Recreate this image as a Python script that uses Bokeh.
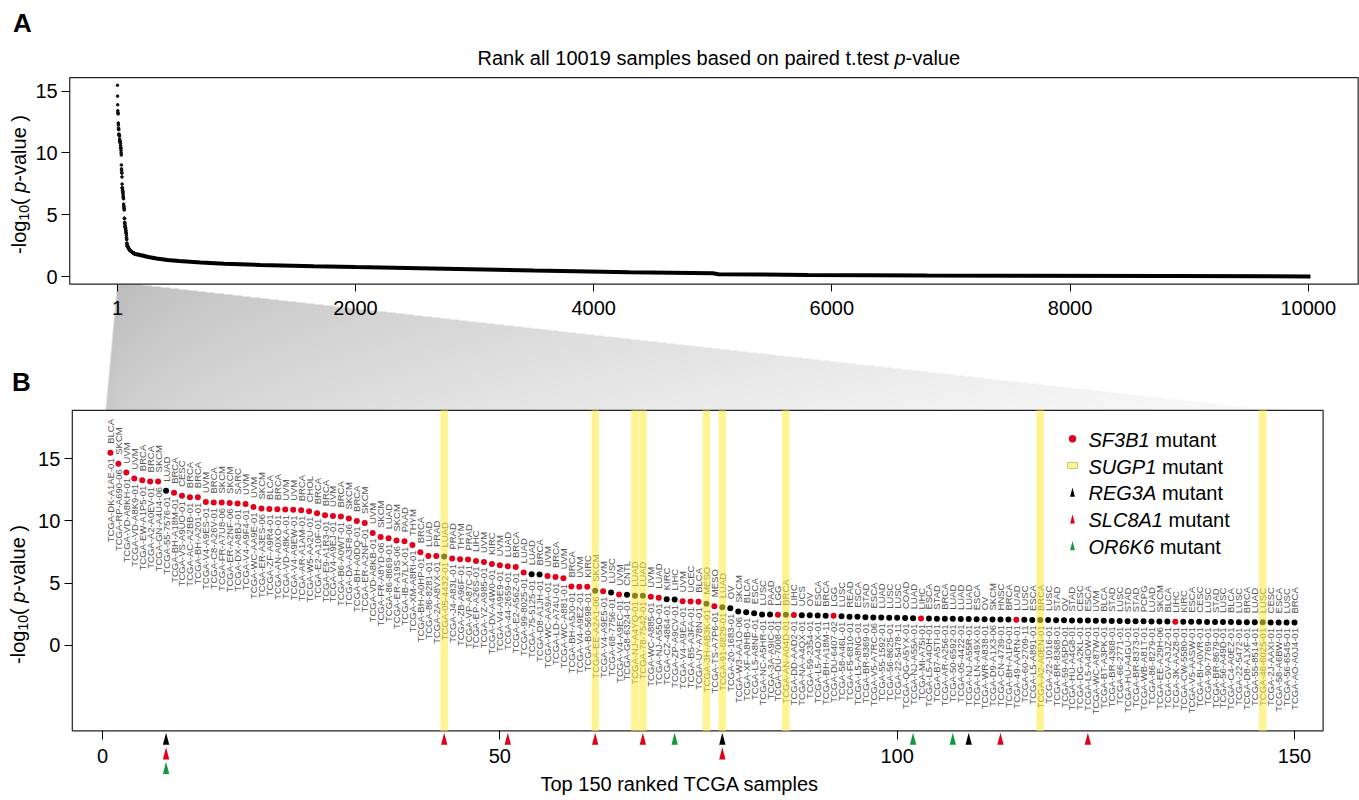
import numpy as np
from math import pi
from bokeh.plotting import figure
from bokeh.models import Range1d, LinearAxis, FixedTicker, Label, ColumnDataSource
from bokeh.core.properties import value
from bokeh.embed import file_html
from bokeh.resources import INLINE

# ---------------------------------------------------------------- data
N_ALL = 10019

SAMPLE_IDS = [
    "TCGA-DK-A1AE-01", "TCGA-RP-A690-06", "TCGA-VD-A8KH-01", "TCGA-VD-A8K9-01", "TCGA-EW-A1P5-01",
    "TCGA-A2-A0EV-01", "TCGA-GN-A4U4-06", "TCGA-55-7576-01", "TCGA-BH-A18M-01", "TCGA-VS-A9UO-01",
    "TCGA-AC-A2BB-01", "TCGA-BH-A201-01", "TCGA-V4-A9ES-01", "TCGA-C8-A26V-01", "TCGA-FR-A7U8-06",
    "TCGA-ER-A2NF-06", "TCGA-DX-A8BJ-01", "TCGA-V4-A9F4-01", "TCGA-WC-AA9E-01", "TCGA-ER-A3ES-06",
    "TCGA-ZF-A9R4-01", "TCGA-AN-A0XO-01", "TCGA-VD-A8KA-01", "TCGA-V4-A9EW-01", "TCGA-AR-A1AM-01",
    "TCGA-W5-AA2U-01", "TCGA-E2-A10F-01", "TCGA-E9-A1R3-01", "TCGA-V4-A9EJ-01", "TCGA-B6-A0WT-01",
    "TCGA-DA-A3F8-06", "TCGA-BH-A0DQ-01", "TCGA-ER-A2NF-01", "TCGA-VD-A8KB-01", "TCGA-FR-A8YD-06",
    "TCGA-86-8669-01", "TCGA-ER-A19S-06", "TCGA-IB-A7LX-01", "TCGA-XM-A8RI-01", "TCGA-BH-A0HP-01",
    "TCGA-86-8281-01", "TCGA-2A-A8VX-01", "TCGA-05-4432-01", "TCGA-J4-A83L-01", "TCGA-ZB-A96F-01",
    "TCGA-VP-A87C-01", "TCGA-EP-A26S-01", "TCGA-YZ-A985-01", "TCGA-DV-A4W0-01", "TCGA-V4-A9E9-01",
    "TCGA-44-2659-01", "TCGA-E2-A56Z-01", "TCGA-99-8025-01", "TCGA-75-5125-01", "TCGA-D8-A1JH-01",
    "TCGA-WC-AA9A-01", "TCGA-LD-A74U-01", "TCGA-WC-A881-01", "TCGA-BH-A5J0-01", "TCGA-V4-A9EZ-01",
    "TCGA-B0-5698-01", "TCGA-EE-A2A1-06", "TCGA-V4-A9E5-01", "TCGA-68-7756-01", "TCGA-V4-A9EC-01",
    "TCGA-G8-6324-01", "TCGA-NJ-A4YQ-01", "TCGA-78-7542-01", "TCGA-WC-A885-01", "TCGA-NJ-A55O-01",
    "TCGA-CZ-4864-01", "TCGA-ZP-A9CV-01", "TCGA-V4-A9EA-01", "TCGA-B5-A3FA-01", "TCGA-UY-A78N-01",
    "TCGA-3H-AB3K-01", "TCGA-TS-A7P6-01", "TCGA-91-6829-01", "TCGA-20-1683-01", "TCGA-W3-AA1O-06",
    "TCGA-XF-A8HB-01", "TCGA-L5-A8NF-01", "TCGA-NC-A5HR-01", "TCGA-3A-A9IC-01", "TCGA-DU-7008-01",
    "TCGA-AN-A04D-01", "TCGA-DD-AAD2-01", "TCGA-NA-A4QX-01", "TCGA-59-2354-01", "TCGA-L5-A4OX-01",
    "TCGA-BH-A18M-11", "TCGA-DU-6407-02", "TCGA-58-A46L-01", "TCGA-F5-6810-01", "TCGA-L5-A8NG-01",
    "TCGA-BR-8369-01", "TCGA-V5-A7RC-06", "TCGA-55-1592-01", "TCGA-56-8625-01", "TCGA-22-5478-11",
    "TCGA-QG-A5YX-01", "TCGA-NJ-A55A-01", "TCGA-MI-A75I-01", "TCGA-L5-A4OH-01", "TCGA-B7-A5TI-01",
    "TCGA-AR-A256-01", "TCGA-50-6592-01", "TCGA-05-4422-01", "TCGA-NJ-A55R-01", "TCGA-LN-A49X-01",
    "TCGA-WR-A838-01", "TCGA-D9-A1X3-06", "TCGA-CN-4739-01", "TCGA-BH-A1F0-01", "TCGA-49-AARN-01",
    "TCGA-60-2709-11", "TCGA-L5-A891-01", "TCGA-A2-A0EN-01", "TCGA-22-1016-01", "TCGA-BR-8368-01",
    "TCGA-59-A5PD-01", "TCGA-HU-A4G8-01", "TCGA-DG-A2KL-01", "TCGA-L5-A4OW-01", "TCGA-WC-A87W-01",
    "TCGA-BT-A3PK-01", "TCGA-BR-4368-01", "TCGA-66-2771-01", "TCGA-HU-A4GU-01", "TCGA-BR-8373-01",
    "TCGA-WB-A81T-01", "TCGA-86-8279-01", "TCGA-EE-A29H-06", "TCGA-GV-A3JZ-01", "TCGA-3K-AAZ8-01",
    "TCGA-CW-5580-01", "TCGA-V5-AASW-01", "TCGA-BI-A0VR-01", "TCGA-90-7769-01", "TCGA-BR-8679-01",
    "TCGA-56-A49D-01", "TCGA-C4-A0EZ-01", "TCGA-22-5472-01", "TCGA-D8-A1XF-01", "TCGA-55-8514-01",
    "TCGA-46-6025-01", "TCGA-2J-AAXI-01", "TCGA-58-A6BW-01", "TCGA-56-6545-01", "TCGA-AO-A0J4-01",
]

CANCER_TYPES = [
    "BLCA", "SKCM", "UVM", "UVM", "BRCA", "BRCA", "SKCM", "LUAD", "BRCA", "CESC",
    "BRCA", "BRCA", "UVM", "BRCA", "SKCM", "SKCM", "SARC", "UVM", "UVM", "SKCM",
    "BLCA", "BRCA", "UVM", "UVM", "BRCA", "CHOL", "BRCA", "BRCA", "UVM", "BRCA",
    "SKCM", "BRCA", "SKCM", "UVM", "SKCM", "LUAD", "SKCM", "PAAD", "THYM", "BRCA",
    "LUAD", "PRAD", "LUAD", "PRAD", "THYM", "PRAD", "LIHC", "UVM", "KIRC", "UVM",
    "LUAD", "BRCA", "LUAD", "LUAD", "BRCA", "UVM", "BRCA", "UVM", "BRCA", "UVM",
    "KIRC", "SKCM", "UVM", "LUSC", "UVM", "CNTL", "LUAD", "LUAD", "UVM", "LUAD",
    "KIRC", "LIHC", "UVM", "UCEC", "BLCA", "MESO", "MESO", "LUAD", "OV", "SKCM",
    "BLCA", "ESCA", "LUSC", "PAAD", "LGG", "BRCA", "LIHC", "UCS", "OV", "ESCA",
    "BRCA", "LGG", "LUSC", "READ", "ESCA", "STAD", "ESCA", "LUAD", "LUSC", "LUSC",
    "COAD", "LUAD", "LIHC", "ESCA", "STAD", "BRCA", "LUAD", "LUAD", "LUAD", "ESCA",
    "OV", "SKCM", "HNSC", "BRCA", "LUAD", "LUSC", "ESCA", "BRCA", "LUSC", "STAD",
    "OV", "STAD", "CESC", "ESCA", "UVM", "BLCA", "STAD", "LUSC", "STAD", "STAD",
    "PCPG", "LUAD", "SKCM", "BLCA", "LIHC", "KIRC", "ESCA", "CESC", "LUSC", "STAD",
    "LUSC", "BLCA", "LUSC", "BRCA", "LUAD", "LUSC", "CESC", "ESCA", "LUSC", "BRCA",
]

# -log10(p) of the top 150 ranked samples
NEG_LOG10_P = [
    15.48, 14.60, 13.90, 13.42, 13.28, 13.18, 13.18, 12.42, 12.26, 12.02,
    11.91, 11.91, 11.53, 11.48, 11.48, 11.45, 11.40, 11.37, 11.13, 11.00,
    10.97, 10.94, 10.92, 10.89, 10.86, 10.78, 10.62, 10.46, 10.40, 10.35,
    10.19, 10.00, 9.84, 9.03, 8.71, 8.60, 8.42, 8.36, 8.06, 7.48,
    7.18, 7.18, 7.13, 6.97, 6.91, 6.89, 6.77, 6.69, 6.53, 6.43,
    6.35, 6.29, 5.86, 5.70, 5.68, 5.56, 5.48, 5.38, 4.72, 4.70,
    4.70, 4.38, 4.35, 4.24, 4.08, 4.06, 3.98, 3.97, 3.89, 3.81,
    3.70, 3.68, 3.54, 3.52, 3.49, 3.33, 3.14, 3.06, 2.98, 2.71,
    2.66, 2.58, 2.47, 2.47, 2.46, 2.45, 2.44, 2.41, 2.41, 2.39,
    2.37, 2.36, 2.33, 2.29, 2.28, 2.25, 2.23, 2.22, 2.20, 2.20,
    2.19, 2.17, 2.15, 2.14, 2.13, 2.12, 2.12, 2.11, 2.10, 2.09,
    2.08, 2.07, 2.07, 2.06, 2.05, 2.04, 2.03, 2.03, 2.02, 2.01,
    2.00, 1.99, 1.98, 1.98, 1.97, 1.96, 1.95, 1.94, 1.93, 1.93,
    1.92, 1.91, 1.91, 1.90, 1.89, 1.89, 1.88, 1.88, 1.87, 1.87,
    1.86, 1.86, 1.85, 1.85, 1.84, 1.84, 1.83, 1.83, 1.82, 1.82,
]

# remaining ranks of panel A (dense curve)
TAIL_RANK = [150, 200, 260, 330, 420, 520, 700, 900, 1200, 1650, 2000, 2750, 3500,
             4300, 5000, 5050, 5800, 6800, 8850, 10019]
TAIL_VALUE = [1.82, 1.72, 1.58, 1.45, 1.34, 1.25, 1.13, 1.04, 0.94, 0.83, 0.76, 0.62, 0.48,
              0.35, 0.26, 0.19, 0.13, 0.08, 0.04, 0.01]

SF3B1_MUT = [1, 2, 3, 4, 5, 6, 7, 9, 10, 11, 12, 13, 14, 15, 16, 17, 18, 19, 20, 21, 22, 23,
             24, 25, 26, 27, 28, 29, 30, 31, 32, 33, 34, 35, 36, 37, 38, 39, 40, 41, 42, 44,
             45, 46, 47, 48, 49, 50, 51, 52, 53, 56, 57, 58, 59, 60, 61, 63, 65, 69, 70, 73,
             74, 75, 77, 85, 87, 92, 103, 115, 135]
SUGP1_MUT = [43, 62, 67, 68, 76, 78, 86, 118, 146]
REG3A_MUT = [8, 78, 109]
SLC8A1_MUT = [8, 43, 51, 62, 68, 78, 113, 124]
OR6K6_MUT = [8, 72, 102, 107]

A_XTICKS = [1, 2000, 4000, 6000, 8000, 10000]
A_YTICKS = [0, 5, 10, 15]
B_XTICKS = [0, 50, 100, 150]
B_YTICKS = [0, 5, 10, 15]

# ---------------------------------------------------------------- layout / style
W, H = 1359, 800
OX, OY = 0, 0          # canvas origin on the page
FONT = "Liberation Sans"
RED = "#E2001A"
GREEN = "#109A3C"
YELLOW = "#FFEB3B"
TXT = "#555555"


class Lin:
    """linear map data value <-> page pixel (calibration of each panel)"""
    def __init__(self, p0, v0, p1, v1):
        self.p0, self.v0 = p0, v0
        self.k = (p1 - p0) / (v1 - v0)

    def px(self, v):
        return self.p0 + (v - self.v0) * self.k

    def val(self, p):
        return self.v0 + (p - self.p0) / self.k


BX = Lin(102, 0, 1294, 150)
BY = Lin(644.7, 0, 458.3, 15)
AX = Lin(355, 2000, 1307.7, 10000)
AY = Lin(276, 0, 90.7, 15)


def xrange_of(m):
    return Range1d(m.val(OX), m.val(OX + W))


def yrange_of(m):
    return Range1d(m.val(OY + H), m.val(OY))


N_TOP = len(NEG_LOG10_P)
amax = max(NEG_LOG10_P)
A_XLIM = (1 - 0.04 * (N_ALL - 1), N_ALL + 0.04 * (N_ALL - 1))
A_YLIM = (0 - 0.04 * amax, amax + 0.04 * amax)
B_XLIM = (-3.8, 153.6)
B_YLIM = (-6.9, 18.9)

p = figure(width=W, height=H, x_range=xrange_of(BX), y_range=yrange_of(BY),
           x_axis_type=None, y_axis_type=None, toolbar_location=None,
           output_backend="svg", min_border=0, title=None)
p.outline_line_color = None
p.background_fill_color = "white"
p.border_fill_color = "white"
p.extra_x_ranges = {"Ax": xrange_of(AX), "px": Range1d(OX, OX + W)}
p.extra_y_ranges = {"Ay": yrange_of(AY), "py": Range1d(-(OY + H), -OY)}

# ---------------------------------------------------------------- zoom wedge (gradient)
tl = (AX.px(1), AY.px(A_YLIM[0]))
tr = (AX.px(N_TOP), AY.px(A_YLIM[0]))
bl = (BX.px(0.4), BY.px(B_YLIM[1]))
br = (BX.px(147.5), BY.px(B_YLIM[1]))
x0 = int(np.floor(min(tl[0], bl[0])))
x1 = int(np.ceil(max(tr[0], br[0])))
y0 = int(np.floor(tl[1]))
y1 = int(np.ceil(bl[1]))
ww, hh = x1 - x0, y1 - y0
gx = x0 + np.arange(ww) + 0.5
gy = y1 - np.arange(hh) - 0.5
SX, SY = np.meshgrid(gx, gy)
f = np.clip((SY - tl[1]) / (bl[1] - tl[1]), 0, 1)
xl = tl[0] + (bl[0] - tl[0]) * f
xr = tr[0] + (br[0] - tr[0]) * f
cov = np.clip(SX - xl + 0.5, 0, 1) * np.clip(xr - SX + 0.5, 0, 1)
cov = cov * ((SY >= tl[1]) & (SY <= bl[1]))
tx = np.clip((SX - bl[0]) / (br[0] - bl[0]), 0, 1)
g = 0.72 + 0.26 * np.clip(0.75 * np.sqrt(tx) + 0.25 * f, 0, 1)
img = np.zeros((hh, ww), dtype=np.uint32)
view = img.view(dtype=np.uint8).reshape((hh, ww, 4))
gv = (g * 255).astype(np.uint8)
view[..., 0] = gv
view[..., 1] = gv
view[..., 2] = gv
view[..., 3] = (cov * 255).astype(np.uint8)
p.image_rgba(image=[img], x=x0, y=-y1, dw=ww, dh=hh, x_range_name="px", y_range_name="py")

# ---------------------------------------------------------------- panel A
p.quad(left=A_XLIM[0], right=A_XLIM[1], bottom=A_YLIM[0], top=A_YLIM[1],
       fill_color=None, line_color="#222222", line_width=1.2,
       x_range_name="Ax", y_range_name="Ay")
p.line(x=TAIL_RANK, y=TAIL_VALUE, line_color="black", line_width=4,
       x_range_name="Ax", y_range_name="Ay")
p.scatter(x=list(range(1, N_TOP + 1)), y=NEG_LOG10_P, size=2.6, color="#111111",
          x_range_name="Ax", y_range_name="Ay")


def style_axis(ax, tick_out=8, standoff=5):
    ax.axis_line_color = None
    ax.major_tick_line_color = "black"
    ax.major_tick_line_width = 1
    ax.major_tick_out = tick_out
    ax.major_tick_in = 0
    ax.minor_tick_line_color = None
    ax.major_label_text_font = FONT
    ax.major_label_text_font_size = "20px"
    ax.major_label_text_color = "black"
    ax.major_label_standoff = standoff


ax_a_x = LinearAxis(x_range_name="Ax", y_range_name="Ay", fixed_location=A_YLIM[0],
                    ticker=FixedTicker(ticks=A_XTICKS),
                    major_label_overrides={t: str(t) for t in A_XTICKS})
style_axis(ax_a_x, 7, 10)
p.add_layout(ax_a_x, "below")
ax_a_y = LinearAxis(x_range_name="Ax", y_range_name="Ay", fixed_location=A_XLIM[0],
                    ticker=FixedTicker(ticks=A_YTICKS),
                    major_label_overrides={t: str(t) for t in A_YTICKS})
style_axis(ax_a_y, 8, 4)
p.add_layout(ax_a_y, "left")

# ---------------------------------------------------------------- panel B
ranks = list(range(1, N_TOP + 1))
dot_col = [RED if r in SF3B1_MUT else "black" for r in ranks]
src = ColumnDataSource(dict(x=ranks, y=NEG_LOG10_P, sid=SAMPLE_IDS, ctype=CANCER_TYPES, col=dot_col))

p.quad(left=B_XLIM[0], right=B_XLIM[1], bottom=B_YLIM[0], top=B_YLIM[1],
       fill_color=None, line_color="#222222", line_width=1.2)
p.scatter(x="x", y="y", source=src, size=6, fill_color="col", line_color=None)
p.text(x="x", y="y", text="sid", source=src, angle=pi / 2, text_align="right",
       text_baseline="middle", y_offset=5.5, text_font=value(FONT),
       text_font_size="9.5px", text_color=TXT)
p.text(x="x", y="y", text="ctype", source=src, angle=pi / 2, text_align="left",
       text_baseline="middle", y_offset=-9, text_font=value(FONT),
       text_font_size="9.5px", text_color=TXT)
p.vbar(x=SUGP1_MUT, width=0.95, bottom=B_YLIM[0], top=B_YLIM[1],
       fill_color=YELLOW, fill_alpha=0.55, line_color=None)

# mutation triangles below the axis (stacked when one sample carries several)
TRI_GAP, TRI_H, TRI_STEP, TRI_HW = 0.15, 0.97, 1.17, 0.4
used = {}
txs, tys, tcs = [], [], []
for genes, colr in [(REG3A_MUT, "black"), (SLC8A1_MUT, RED), (OR6K6_MUT, GREEN)]:
    for r in genes:
        k = used.get(r, 0)
        used[r] = k + 1
        apex = B_YLIM[0] - TRI_GAP - k * TRI_STEP
        base = apex - TRI_H
        txs.append([r - TRI_HW, r + TRI_HW, r])
        tys.append([base, base, apex])
        tcs.append(colr)
p.patches(xs=txs, ys=tys, fill_color=tcs, line_color=None)

ax_b_x = LinearAxis(fixed_location=B_YLIM[0], ticker=FixedTicker(ticks=B_XTICKS),
                    major_label_overrides={t: str(t) for t in B_XTICKS},
                    axis_label="Top 150 ranked TCGA samples")
style_axis(ax_b_x, 9, 9)
ax_b_x.axis_label_text_font = FONT
ax_b_x.axis_label_text_font_size = "20px"
ax_b_x.axis_label_text_font_style = "normal"
ax_b_x.axis_label_text_color = "black"
ax_b_x.axis_label_standoff = 7
p.add_layout(ax_b_x, "below")
ax_b_y = LinearAxis(fixed_location=B_XLIM[0], ticker=FixedTicker(ticks=B_YTICKS),
                    major_label_overrides={t: str(t) for t in B_YTICKS})
style_axis(ax_b_y, 8, 4)
p.add_layout(ax_b_y, "left")


# ---------------------------------------------------------------- texts
def label(x, y, text, size=20, style="normal", align="left", angle=0.0, color="black"):
    p.add_layout(Label(x=x, y=-y, text=text, angle=angle, text_font=FONT,
                       text_font_size=f"{size}px", text_font_style=style,
                       text_align=align, text_baseline="middle", text_color=color,
                       x_range_name="px", y_range_name="py"))


def ylab(xc, yc):
    pieces = [("-log", 20, "normal", 0, 1.667 * 20),
              ("10", 14, "normal", 5, 1.112 * 14),
              ("( ", 20, "normal", 0, 0.611 * 20),
              ("p", 20, "italic", 0, 0.556 * 20),
              ("-value )", 20, "normal", 0, 3.334 * 20)]
    y = yc + sum(pc[4] for pc in pieces) / 2
    for t, fs, st, dx, w in pieces:
        label(xc + dx, y, t, size=fs, style=st, angle=pi / 2)
        y -= w


label(22, 22, "A", size=26, style="bold", align="center")
label(21, 381.5, "B", size=26, style="bold", align="center")

# title with italic p
split = 894
label(split - 5.6, 57.5, "Rank all 10019 samples based on paired t.test", align="right")
label(split, 57.5, "p", style="italic")
label(split + 11.1, 57.5, "-value")

ylab(18, 184)
ylab(17, 594)

# legend
LEG_X, LEG_TX, LEG_Y0, LEG_DY = 1072, 1088, 438.3, 26.7
leg_names = ["SF3B1", "SUGP1", "REG3A", "SLC8A1", "OR6K6"]
leg_w = [3.057, 3.39, 3.39, 3.724, 3.279]
rows_y = [LEG_Y0 + i * LEG_DY for i in range(5)]
p.scatter(x=[LEG_X], y=[-rows_y[0]], size=7, fill_color=RED, line_color="#9a0010",
          line_width=0.5, x_range_name="px", y_range_name="py")
p.rect(x=[LEG_X], y=[-rows_y[1]], width=10, height=6, width_units="screen",
       height_units="screen", fill_color=YELLOW, fill_alpha=0.55, line_color="#cfc57a",
       x_range_name="px", y_range_name="py")
lx, ly = [], []
for yy in rows_y[2:]:
    lx.append([LEG_X - 2.4, LEG_X + 2.4, LEG_X])
    ly.append([-(yy + 4.6), -(yy + 4.6), -(yy - 4.6)])
p.patches(xs=lx, ys=ly, fill_color=["black", RED, GREEN], line_color=None,
          x_range_name="px", y_range_name="py")
for name, wem, yy in zip(leg_names, leg_w, rows_y):
    label(LEG_TX, yy + 1, name, style="italic")
    label(LEG_TX + wem * 20 + 5.6, yy + 1, "mutant")

open("out.html", "w").write(file_html(p, INLINE))
